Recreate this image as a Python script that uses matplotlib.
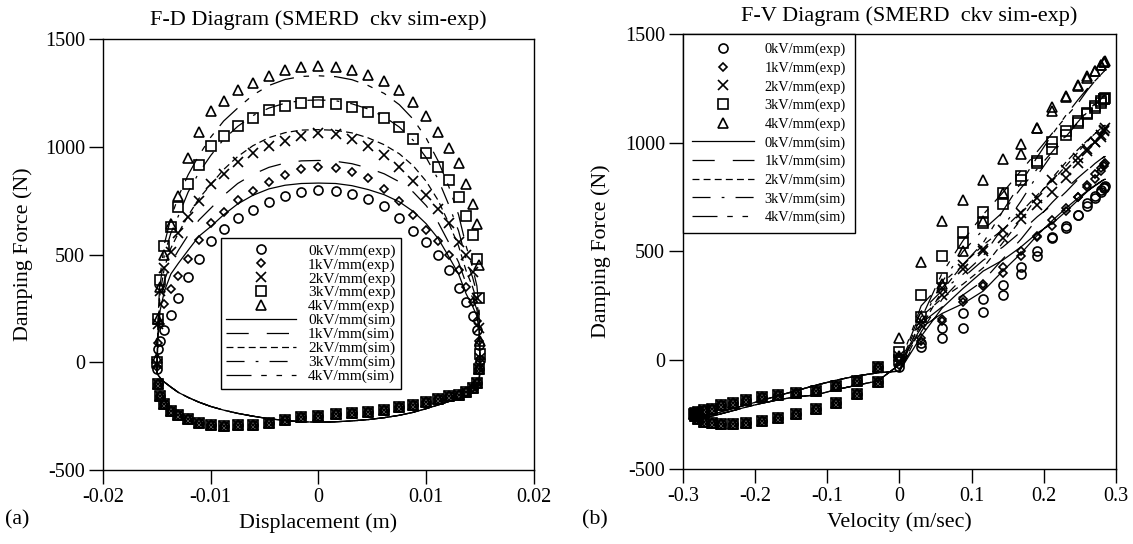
import matplotlib
matplotlib.use('Agg')
import matplotlib.pyplot as plt

plt.rcParams['font.family'] = ['Liberation Serif', 'DejaVu Serif']
plt.rcParams['axes.unicode_minus'] = False
plt.rcParams['lines.scale_dashes'] = False

# sample grid over one cycle (6 deg steps): displacement (m) and velocity (m/s)
disp = [-0.0150, -0.0149, -0.0147, -0.0143, -0.0137, -0.0130, -0.0121, -0.0111, -0.0100, -0.0088,
        -0.0075, -0.0061, -0.0046, -0.0031, -0.0016, 0.0, 0.0016, 0.0031, 0.0046, 0.0061,
        0.0075, 0.0088, 0.0100, 0.0111, 0.0121, 0.0130, 0.0137, 0.0143, 0.0147, 0.0149,
        0.0150, 0.0149, 0.0147, 0.0143, 0.0137, 0.0130, 0.0121, 0.0111, 0.0100, 0.0088,
        0.0075, 0.0061, 0.0046, 0.0031, 0.0016, 0.0, -0.0016, -0.0031, -0.0046, -0.0061,
        -0.0075, -0.0088, -0.0100, -0.0111, -0.0121, -0.0130, -0.0137, -0.0143, -0.0147, -0.0149]
vel = [0.0, 0.030, 0.059, 0.088, 0.116, 0.143, 0.168, 0.191, 0.212, 0.231,
       0.247, 0.260, 0.271, 0.279, 0.283, 0.285, 0.283, 0.279, 0.271, 0.260,
       0.247, 0.231, 0.212, 0.191, 0.168, 0.143, 0.116, 0.088, 0.059, 0.030,
       0.0, -0.030, -0.059, -0.088, -0.116, -0.143, -0.168, -0.191, -0.212, -0.231,
       -0.247, -0.260, -0.271, -0.279, -0.283, -0.285, -0.283, -0.279, -0.271, -0.260,
       -0.247, -0.231, -0.212, -0.191, -0.168, -0.143, -0.116, -0.088, -0.059, -0.030]

# experimental force (N), upper half of the loop for each field
exp_0kv = [-30, 60, 100, 150, 220, 300, 395, 480, 565, 619, 668, 708, 745, 772, 792, 801,
           797, 782, 757, 725, 668, 610, 560, 500, 430, 345, 280, 215, 150, 80, 10]
exp_1kv = [-20, 90, 180, 270, 340, 400, 480, 570, 646, 700, 752, 795, 835, 870, 895, 907,
           902, 885, 855, 805, 750, 685, 615, 565, 500, 430, 350, 280, 190, 100, 15]
exp_2kv = [-10, 180, 330, 440, 512, 600, 675, 748, 829, 875, 928, 972, 1005, 1028, 1052, 1066,
           1058, 1037, 1002, 960, 905, 840, 775, 712, 648, 560, 500, 420, 300, 160, 20]
exp_3kv = [0, 200, 380, 540, 630, 720, 830, 915, 1002, 1052, 1098, 1135, 1170, 1190, 1203, 1208,
           1200, 1184, 1161, 1132, 1090, 1035, 970, 908, 845, 768, 680, 590, 480, 300, 40]
exp_4kv = [20, 200, 350, 500, 640, 770, 950, 1070, 1165, 1215, 1265, 1298, 1330, 1358, 1372, 1377,
           1371, 1358, 1332, 1306, 1262, 1210, 1145, 1070, 995, 927, 830, 735, 640, 450, 100]
# lower half (rebound) is practically the same for every field
exp_lower = [-30, -95, -120, -140, -150, -158, -170, -182, -197, -208, -222, -230, -237, -242, -248,
             -255, -270, -282, -289, -293, -294, -290, -280, -265, -245, -225, -195, -155, -100]

# simulated force (N)
sim_0kv = [-50, 110, 240, 330, 410, 460, 520, 585, 630, 685, 735, 775, 805, 822, 830, 832,
           830, 820, 802, 778, 745, 700, 643, 575, 490, 410, 318, 260, 215, 150, -20]
sim_1kv = [-50, 130, 280, 380, 460, 520, 590, 660, 715, 775, 830, 872, 905, 925, 935, 937,
           933, 922, 902, 875, 838, 790, 727, 650, 555, 465, 365, 300, 245, 170, -20]
sim_2kv = [-50, 150, 320, 440, 530, 600, 680, 760, 825, 895, 955, 1005, 1043, 1066, 1078, 1080,
           1077, 1065, 1042, 1010, 968, 912, 840, 752, 645, 540, 425, 350, 285, 200, -20]
sim_3kv = [-50, 170, 360, 500, 600, 680, 790, 880, 960, 1035, 1095, 1145, 1180, 1203, 1215, 1218,
           1214, 1200, 1176, 1140, 1092, 1030, 950, 850, 730, 610, 480, 395, 320, 225, -20]
sim_4kv = [-50, 190, 400, 550, 670, 770, 870, 960, 1045, 1120, 1180, 1240, 1285, 1313, 1327, 1330,
           1326, 1312, 1285, 1248, 1196, 1128, 1040, 935, 815, 685, 540, 440, 355, 250, -20]
sim_lower = [-95, -115, -135, -160, -168, -182, -198, -215, -232, -246, -257, -266, -272, -276, -278,
             -276, -270, -262, -250, -237, -222, -205, -185, -163, -140, -115, -92, -72, -58]

exp_sets = [exp_0kv, exp_1kv, exp_2kv, exp_3kv, exp_4kv]
sim_sets = [sim_0kv, sim_1kv, sim_2kv, sim_3kv, sim_4kv]
fields = ['0kV/mm', '1kV/mm', '2kV/mm', '3kV/mm', '4kV/mm']

markers = ['o', 'D', 'x', 's', '^']
msizes = [6.5, 4.5, 7, 6.5, 6.5]
dashes = ['-', (0, (16, 13)), (0, (5, 3)), (0, (13, 8, 2, 8)), (0, (18, 7, 4, 7, 4, 7))]

fig = plt.figure(figsize=(11.33, 5.44), dpi=100)
ax1 = fig.add_axes([0.0909, 0.136, 0.3804, 0.792])
ax2 = fig.add_axes([0.6028, 0.1379, 0.3822, 0.7996])

handles = {ax1: [], ax2: []}
for ax, xs in [(ax1, disp), (ax2, vel)]:
    eh = []
    sh = []
    for i in range(5):
        f = exp_sets[i] + exp_lower
        h, = ax.plot(xs, f, linestyle='none', marker=markers[i], ms=msizes[i],
                     mfc='none', mec='k', mew=1.2)
        eh.append(h)
    for i in range(5):
        f = sim_sets[i] + sim_lower + [sim_sets[i][0]]
        h, = ax.plot(xs + [xs[0]], f, color='k', lw=0.9, linestyle=dashes[i])
        sh.append(h)
    handles[ax] = eh + sh

labels = [f + '(exp)' for f in fields] + [f + '(sim)' for f in fields]

for ax in [ax1, ax2]:
    ax.set_ylim(-500, 1500)
    ax.set_yticks([-500, 0, 500, 1000, 1500])
    ax.set_yticklabels(['-500', '0', '500', '1000', '1500'])
    ax.tick_params(direction='out', length=10, width=1, labelsize=14.5, pad=3,
                   top=False, right=False)
    for s in ax.spines.values():
        s.set_linewidth(1)
    ax.set_ylabel('Damping Force (N)', fontsize=15.8)

ax1.set_xlim(-0.02, 0.02)
ax1.set_xticks([-0.02, -0.01, 0, 0.01, 0.02])
ax1.set_xticklabels(['-0.02', '-0.01', '0', '0.01', '0.02'])
ax1.set_xlabel('Displacement (m)', fontsize=15.8)
ax1.set_title('F-D Diagram (SMERD  ckv sim-exp)', fontsize=16, pad=10)
ax1.yaxis.set_label_coords(-0.162, 0.5)
ax1.xaxis.set_label_coords(0.5, -0.1)

ax2.set_xlim(-0.3, 0.3)
ax2.set_xticks([-0.3, -0.2, -0.1, 0, 0.1, 0.2, 0.3])
ax2.set_xticklabels(['-0.3', '-0.2', '-0.1', '0', '0.1', '0.2', '0.3'])
ax2.set_xlabel('Velocity (m/sec)', fontsize=15.8)
ax2.set_title('F-V Diagram (SMERD  ckv sim-exp)', fontsize=16, pad=9, x=0.522)
ax2.yaxis.set_label_coords(-0.166, 0.5)
ax2.xaxis.set_label_coords(0.5, -0.1)

leg1 = ax1.legend(handles[ax1], labels, loc='upper left', bbox_to_anchor=(0.274, 0.538),
                  borderaxespad=0, fontsize=11.1, handlelength=4.5, handletextpad=0.8,
                  labelspacing=0.0, borderpad=0.35, fancybox=False, framealpha=1,
                  edgecolor='k')
leg1.get_frame().set_linewidth(1)
leg2 = ax2.legend(handles[ax2], labels, loc='upper left', bbox_to_anchor=(0, 1),
                  borderaxespad=0, fontsize=10.4, handlelength=4.35, handletextpad=0.7,
                  labelspacing=0.36, borderpad=0.6, fancybox=False, framealpha=1,
                  edgecolor='k')
leg2.get_frame().set_linewidth(1)

fig.text(17 / 1133, 0.045, '(a)', fontsize=15.8, ha='center', va='center')
fig.text(595 / 1133, 0.045, '(b)', fontsize=15.8, ha='center', va='center')

fig.savefig('out.png', dpi=100)
